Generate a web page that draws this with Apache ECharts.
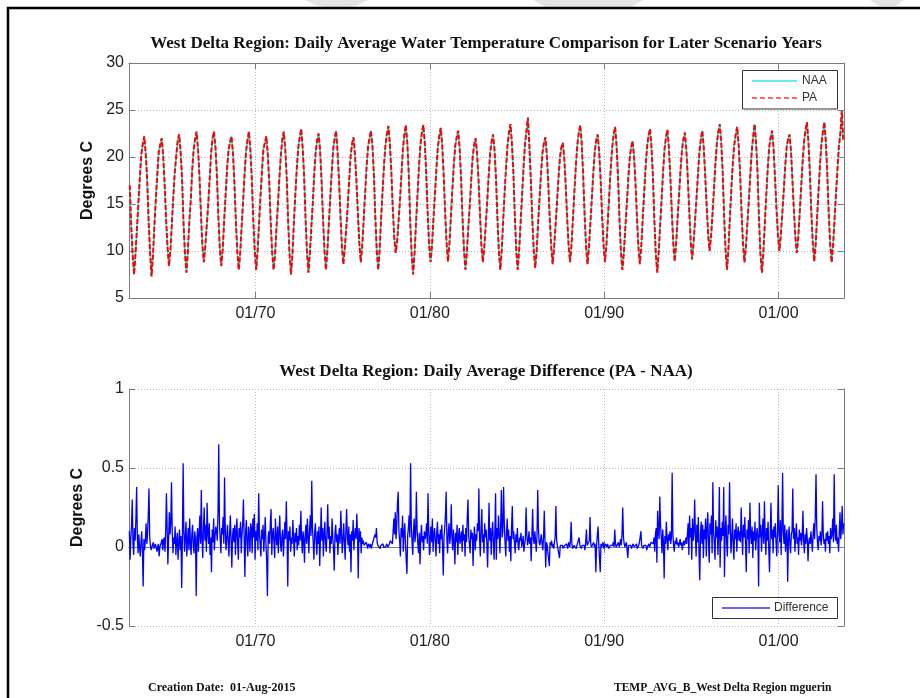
<!DOCTYPE html>
<html><head><meta charset="utf-8">
<script src="https://cdn.jsdelivr.net/npm/echarts@6/dist/echarts.min.js"></script>
<style>html,body{margin:0;padding:0;background:#fff}#c{width:920px;height:698px}</style>
</head><body><div id="c"></div>
<script>
// ---------- data ----------
const FIRST_WATER_YEAR = 1963;          // water year starts 1 Oct of previous year
const X_MIN = 1962.75, X_MAX = 2003.75; // Oct 1962 .. Sep 2003 (decimal years)
const X_TICKS = [1970, 1980, 1990, 2000];
const TEMP_MIN = 5, TEMP_MAX = 30, TEMP_STEP = 5;
const DIFF_MIN = -0.5, DIFF_MAX = 1, DIFF_STEP = 0.5;

// NAA monthly water temperature (deg C), one row per water year, Oct..Sep
const NAA = [
[17.0,12.8,9.6,7.5,9.8,12.4,15.2,17.9,20.3,21.4,22.2,20.4],
[17.6,13.2,9.9,7.3,9.5,12.8,15.6,18.2,20.6,21.3,22.0,20.2],
[17.2,13.5,10.4,8.4,10.1,12.9,15.8,18.4,20.1,21.7,22.4,20.6],
[17.8,13.0,9.8,7.7,9.9,13.1,15.4,18.6,20.8,21.9,22.7,20.9],
[17.9,14.0,10.6,8.8,10.5,12.7,14.9,17.6,20.4,22.0,22.7,21.0],
[18.1,13.6,10.2,8.4,10.2,13.3,16.0,18.8,20.7,21.6,22.2,20.5],
[17.4,13.3,10.0,8.0,9.7,12.6,15.3,18.1,20.5,21.8,22.7,20.8],
[17.7,13.4,10.1,8.0,10.0,13.0,15.9,18.5,20.9,21.5,22.2,20.3],
[17.3,13.1,9.9,8.0,9.6,12.5,15.0,17.8,20.2,21.9,22.7,20.9],
[17.9,13.2,9.6,7.5,9.7,13.2,16.1,18.9,21.0,22.1,23.0,21.0],
[18.0,13.4,9.8,7.7,9.9,12.6,15.2,18.3,20.6,21.8,22.5,20.7],
[17.5,13.5,10.1,8.0,10.0,12.9,15.7,18.4,20.8,22.0,22.8,20.6],
[17.6,13.8,10.5,8.6,10.3,12.4,14.8,17.5,20.1,21.4,22.1,20.2],
[17.4,14.0,10.8,8.8,10.6,13.4,16.2,19.0,21.1,22.0,22.8,21.2],
[18.2,13.6,10.0,8.0,10.2,13.5,16.4,19.2,21.3,22.5,23.3,21.4],
[18.5,14.6,11.5,9.8,11.0,13.2,15.5,18.2,20.9,22.4,23.4,21.5],
[18.3,13.2,9.6,7.5,9.8,13.0,15.9,18.9,21.2,22.6,23.4,21.6],
[18.4,14.1,10.7,8.8,10.6,13.4,16.0,18.7,21.0,22.2,23.1,21.3],
[18.2,14.3,10.9,8.9,10.8,13.6,16.5,19.1,21.2,22.1,22.8,21.0],
[17.8,13.5,10.1,8.0,9.9,12.5,14.9,17.6,20.0,21.3,22.0,20.4],
[17.6,14.0,10.6,8.8,10.4,12.8,15.3,18.0,20.4,21.6,22.4,20.8],
[17.9,13.6,10.0,8.0,10.1,13.3,16.3,19.0,21.3,22.6,23.5,21.4],
[18.4,13.7,10.0,8.0,10.2,13.1,16.0,18.9,21.4,22.8,24.2,21.2],
[17.6,13.4,10.1,8.2,10.0,12.9,15.6,18.2,20.4,21.5,22.1,20.3],
[17.2,13.6,10.5,8.6,10.3,12.7,15.1,17.7,19.9,21.0,21.5,19.9],
[17.0,13.5,10.6,8.8,10.7,13.5,16.4,19.1,21.3,22.6,23.4,21.5],
[18.1,13.9,10.5,8.6,10.4,13.0,15.6,18.3,20.6,21.8,22.4,20.6],
[17.7,14.0,10.7,8.8,10.6,13.3,16.1,18.8,21.0,22.4,23.2,21.2],
[17.9,13.4,9.9,8.0,9.8,12.4,14.9,17.5,19.8,21.0,21.7,20.1],
[17.3,13.7,10.5,8.6,10.5,13.4,16.2,18.9,21.1,22.3,23.0,21.1],
[18.0,13.3,9.7,7.7,9.9,12.8,15.5,18.4,20.8,22.1,22.9,21.0],
[17.9,14.2,10.9,8.9,10.8,13.5,16.0,18.6,20.7,21.9,22.6,20.8],
[17.8,14.3,11.1,9.1,10.9,13.2,15.6,18.1,20.5,21.9,22.8,21.0],
[18.0,14.8,11.8,10.0,11.5,13.9,16.5,19.2,21.4,22.7,23.5,21.6],
[18.5,13.8,10.1,8.0,10.3,13.6,16.6,19.3,21.3,22.4,23.2,21.3],
[18.3,14.1,10.8,8.8,10.4,12.9,15.3,18.0,20.6,22.2,23.5,21.5],
[18.4,13.4,9.7,7.7,9.8,12.9,15.9,18.7,21.0,22.1,22.8,21.0],
[17.9,14.6,11.8,10.0,11.6,13.9,16.3,18.9,21.0,21.9,22.4,20.7],
[17.6,14.4,11.6,9.8,11.4,14.0,16.7,19.4,21.6,22.8,23.7,21.7],
[18.4,14.2,10.9,8.9,10.7,13.6,16.5,19.2,21.5,22.7,23.7,21.6],
[18.2,14.0,10.7,8.8,10.6,13.4,16.1,18.7,21.2,22.5,24.9,21.8]
];
// PA differs from NAA by less than 0.7 deg C (see lower panel): identical at this scale
const PA = NAA;

// Difference PA - NAA (deg C), one row per water year, ~semi-monthly Oct..Sep
const DIFF = [
[0.10,-0.08,0.05,0.14,0.30,0.02,-0.05,0.12,0.04,0.18,0.38,0.06,-0.04,0.08,0.00,-0.06,0.03,0.10,-0.03,-0.25,0.05,-0.02,0.04,0.15],
[0.02,0.08,0.20,0.37,0.06,0.01,-0.02,0.00,0.01,0.03,-0.01,0.00,0.02,0.01,-0.03,0.00,0.02,-0.06,0.00,0.01,0.03,0.05,-0.02,0.04],
[0.06,-0.03,0.10,0.34,0.12,-0.11,0.05,0.22,0.08,0.15,0.41,0.10,-0.04,0.06,0.02,0.13,-0.05,0.04,0.09,-0.08,0.03,0.11,-0.02,0.07],
[-0.26,0.05,0.53,0.10,-0.03,0.07,0.16,-0.06,0.04,0.12,-0.02,0.18,0.03,-0.05,0.08,0.14,0.01,-0.04,0.10,0.05,-0.31,0.06,0.12,-0.03],
[0.08,0.20,0.02,0.36,0.05,-0.07,0.12,0.25,0.04,0.14,-0.03,0.28,0.09,0.02,0.15,-0.05,0.06,-0.16,0.11,0.03,0.18,-0.02,0.07,0.13],
[0.10,0.04,0.22,0.65,0.15,0.05,-0.04,0.12,0.08,0.19,0.02,0.44,0.10,-0.02,0.06,0.14,0.03,-0.06,0.09,0.20,0.04,-0.13,0.07,0.12],
[0.03,0.14,-0.05,0.10,0.18,0.02,-0.08,0.12,0.06,0.16,-0.04,0.08,0.15,0.30,0.05,-0.19,0.10,0.17,0.02,-0.06,0.13,0.08,-0.03,0.15],
[0.12,-0.04,0.18,0.06,0.21,-0.08,0.10,0.04,0.15,-0.02,0.34,0.08,0.02,-0.06,0.11,0.05,0.14,-0.03,0.07,0.19,0.02,-0.09,-0.31,0.06],
[0.10,0.02,0.15,0.24,-0.05,0.08,0.12,0.03,-0.07,0.18,0.06,0.01,0.13,-0.04,0.09,0.20,0.02,-0.03,0.07,0.11,-0.06,0.04,0.16,0.05],
[0.29,0.08,-0.25,0.10,0.04,0.13,-0.03,0.06,0.02,0.17,0.05,-0.06,0.09,0.03,0.12,-0.02,0.07,0.01,0.14,0.04,0.23,0.06,-0.04,0.10],
[0.05,-0.10,0.08,0.14,0.02,0.18,0.06,-0.04,0.11,0.20,0.07,0.42,0.12,0.03,-0.08,0.09,0.15,0.04,-0.05,0.10,0.02,0.13,-0.12,0.06],
[0.25,0.04,0.12,-0.06,0.08,0.16,0.02,-0.03,0.10,0.27,0.05,0.13,-0.04,0.07,0.02,0.18,0.06,-0.02,-0.15,0.09,0.14,0.03,0.08,-0.05],
[0.06,0.12,0.02,0.23,0.09,-0.04,0.05,0.15,0.03,-0.08,0.11,0.24,0.06,0.01,0.13,-0.03,0.08,-0.16,0.10,0.04,0.17,-0.02,0.07,0.12],
[0.05,0.21,0.08,-0.20,0.12,0.03,0.10,-0.04,0.06,0.02,0.04,0.01,0.02,0.00,0.03,0.01,-0.01,0.02,0.01,0.00,0.02,-0.01,0.01,0.03],
[0.02,0.04,0.08,0.06,0.12,0.03,0.01,0.00,0.02,-0.01,0.01,0.00,0.01,0.02,0.00,-0.01,0.01,0.00,0.02,0.01,0.00,0.01,0.02,0.04],
[0.03,0.05,0.02,0.10,0.18,0.08,0.22,0.05,0.14,0.28,0.35,0.10,0.04,-0.06,0.12,0.06,0.20,-0.03,0.09,0.15,0.02,-0.08,-0.17,0.07],
[0.12,0.20,0.06,0.53,0.14,0.04,-0.05,0.10,0.18,0.03,0.08,0.35,0.11,0.02,-0.04,0.09,-0.11,0.06,0.14,0.03,0.07,-0.02,0.10,0.05],
[0.08,0.15,0.02,0.34,0.10,-0.05,0.06,0.13,0.03,0.18,-0.03,0.07,0.12,0.04,-0.06,0.09,0.16,0.02,0.08,-0.04,0.11,0.05,0.14,0.01],
[-0.18,0.06,0.12,0.20,0.35,0.05,-0.04,0.10,0.15,0.02,0.08,0.27,0.06,-0.02,0.11,0.04,-0.11,0.09,0.03,0.14,-0.05,0.07,0.12,0.02],
[0.06,0.10,-0.03,0.14,0.04,0.08,-0.06,0.12,0.03,0.18,0.30,0.07,0.02,-0.04,0.11,0.05,0.09,-0.12,0.06,0.13,-0.02,0.08,0.04,0.15],
[0.10,0.37,0.05,-0.06,0.12,0.24,0.03,0.08,-0.04,0.15,0.06,0.11,0.02,-0.13,0.07,0.28,0.04,0.12,-0.05,0.09,0.16,0.03,-0.08,0.10],
[0.34,-0.08,0.12,0.05,0.20,0.08,-0.04,0.14,0.36,0.06,0.10,0.38,0.15,0.03,-0.06,0.09,0.18,0.04,0.11,-0.03,0.07,-0.09,0.13,0.26],
[0.05,0.10,0.02,-0.04,0.08,0.03,0.12,0.01,-0.02,0.06,0.04,0.09,0.00,0.03,0.07,-0.03,0.02,0.05,0.25,0.08,0.01,0.04,0.10,0.02],
[0.06,-0.09,0.08,0.24,0.05,0.02,0.10,0.04,-0.03,0.07,0.36,0.12,0.03,0.01,0.05,0.08,0.02,-0.02,0.06,0.23,0.04,-0.13,0.03,0.01],
[0.02,0.00,-0.12,0.03,0.01,0.04,0.00,0.02,-0.01,0.03,0.06,0.26,0.04,0.01,0.00,0.02,-0.07,0.01,0.00,0.02,0.01,-0.01,0.00,0.01],
[0.01,0.00,0.02,-0.01,0.01,0.03,0.00,0.04,0.16,0.02,-0.01,0.00,0.01,0.02,0.00,-0.01,0.01,0.00,0.02,0.06,0.01,0.00,-0.01,0.01],
[0.02,0.00,0.01,-0.02,0.03,0.11,0.01,0.00,0.02,0.04,0.19,0.02,0.00,-0.01,0.01,0.03,0.00,0.02,-0.16,0.01,0.00,0.13,0.02,0.01],
[-0.16,0.02,0.00,0.01,0.03,-0.01,0.00,0.02,0.01,0.00,0.02,0.01,-0.01,0.00,0.01,0.02,0.00,0.01,0.03,0.00,0.11,0.02,0.00,0.01],
[0.01,0.03,0.00,0.02,0.05,0.01,0.08,0.25,0.06,0.02,0.00,0.01,0.03,-0.02,-0.07,0.01,0.00,0.02,0.01,-0.01,0.00,0.02,0.01,0.00],
[0.01,0.00,0.02,-0.01,0.00,0.01,0.03,0.02,0.10,0.01,0.00,-0.01,0.01,0.02,0.00,0.01,-0.02,0.00,0.01,0.02,0.00,0.01,0.03,0.02],
[0.04,0.02,0.06,-0.03,0.08,0.12,-0.10,0.23,0.10,0.05,0.32,0.14,0.06,-0.04,0.11,0.03,-0.20,0.07,0.02,0.16,0.05,-0.02,0.08,0.04],
[0.10,0.02,0.06,0.47,0.08,0.01,-0.03,0.04,0.02,0.06,0.01,0.03,0.00,0.02,0.05,0.01,0.03,-0.02,0.02,0.04,0.01,0.03,0.06,0.02],
[0.08,0.15,-0.05,0.20,0.06,0.12,-0.08,0.18,0.04,0.10,0.30,0.07,-0.06,0.14,0.03,0.19,-0.04,-0.21,0.09,0.16,0.02,0.14,-0.07,0.11],
[0.05,0.18,-0.06,0.12,0.22,0.03,-0.10,0.15,0.08,0.20,-0.04,0.41,0.10,0.02,-0.08,0.17,0.06,0.13,-0.05,0.09,0.38,-0.13,0.12,0.04],
[0.16,0.07,0.38,-0.19,0.10,0.20,0.03,-0.06,0.14,0.08,0.41,0.12,-0.04,0.06,0.18,0.02,-0.08,0.11,0.05,0.15,-0.03,0.09,0.13,0.04],
[0.10,0.03,0.25,0.08,-0.05,0.14,0.06,0.19,0.02,-0.16,0.11,0.05,0.17,-0.04,0.28,0.08,0.02,0.13,-0.07,0.10,0.04,0.16,-0.02,0.07],
[0.12,0.05,-0.25,0.28,0.06,0.14,-0.03,0.09,0.18,0.02,0.29,0.07,-0.05,0.12,0.04,0.16,-0.02,-0.16,0.08,0.28,0.05,0.11,-0.04,0.13],
[0.06,0.15,0.02,-0.06,0.10,0.39,0.08,0.03,0.17,-0.05,0.12,0.47,0.09,0.02,0.14,-0.03,0.07,0.11,-0.22,0.05,0.13,0.02,-0.04,0.08],
[0.10,0.37,0.05,0.12,-0.03,0.08,0.15,0.02,0.06,-0.05,0.11,0.04,0.09,0.01,0.07,0.23,0.03,-0.04,0.08,0.02,0.12,0.05,-0.09,0.03],
[0.06,0.02,0.10,0.04,-0.03,0.08,0.15,0.05,0.20,0.46,0.12,0.03,-0.02,0.07,0.04,0.10,0.01,0.06,0.29,0.08,0.02,0.05,-0.03,0.09],
[0.04,0.10,0.02,0.07,-0.04,0.12,0.05,0.08,0.18,0.03,0.46,0.10,0.04,0.14,0.02,0.06,-0.03,0.09,0.22,0.05,0.12,0.26,0.08,0.15]
];

const TITLE_TOP = 'West Delta Region: Daily Average Water Temperature Comparison for Later Scenario Years';
const TITLE_BOTTOM = 'West Delta Region: Daily Average Difference (PA - NAA)';
const Y_NAME = 'Degrees C';
const LEGEND_TOP = ['NAA', 'PA'];
const LEGEND_BOTTOM = ['Difference'];
const FOOT_LEFT = 'Creation Date:  01-Aug-2015';
const FOOT_RIGHT = 'TEMP_AVG_B_West Delta Region mguerin';

// ---------- build series: place each row's samples inside its water year ----------
function toPoints(rows) {
  const pts = [];
  rows.forEach((row, y) => {
    const wyStart = X_MIN + y;
    row.forEach((v, j) => pts.push([wyStart + (j + 0.5) / row.length, v]));
  });
  return pts;
}
const naaPts = toPoints(NAA), paPts = toPoints(PA), diffPts = toPoints(DIFF);

const SANS = '"Liberation Sans", Arial, sans-serif';
const SERIF = '"Liberation Serif", "Times New Roman", serif';
const AX = '#7a7a7a';
const labFmt = v => '01/' + String(Math.round(v)).slice(2);

function xAxes(gi) {
  return [{
    type: 'value', gridIndex: gi, min: X_MIN, max: X_MAX, position: 'bottom',
    axisLine: {show: true, lineStyle: {color: AX, width: 1}},
    axisTick: {show: true, inside: true, length: 6, customValues: X_TICKS, lineStyle: {color: AX}},
    axisLabel: {show: true, customValues: X_TICKS, formatter: labFmt, color: '#222', fontFamily: SANS, fontSize: 16, margin: 8},
    splitLine: {show: true, lineStyle: {color: '#b8b8b8', type: [1, 2], width: 1}}
  }, {
    type: 'value', gridIndex: gi, min: X_MIN, max: X_MAX, position: 'top',
    axisLine: {show: true, lineStyle: {color: AX, width: 1}},
    axisTick: {show: true, inside: true, length: 6, customValues: X_TICKS, lineStyle: {color: AX}},
    axisLabel: {show: false}, splitLine: {show: false}
  }];
}
function yAxes(gi, min, max, step, gap) {
  return [{
    type: 'value', gridIndex: gi, min, max, interval: step, position: 'left',
    name: Y_NAME, nameLocation: 'middle', nameGap: gap,
    nameTextStyle: {fontFamily: SANS, fontWeight: 'bold', fontSize: 16, color: '#111'},
    axisLine: {show: true, lineStyle: {color: AX, width: 1}},
    axisTick: {show: true, inside: true, length: 6, lineStyle: {color: AX}},
    axisLabel: {color: '#222', fontFamily: SANS, fontSize: 16, margin: 5, formatter: v => String(+v.toFixed(2))},
    splitLine: {show: true, lineStyle: {color: '#b8b8b8', type: [1, 2], width: 1}}
  }, {
    type: 'value', gridIndex: gi, min, max, interval: step, position: 'right',
    axisLine: {show: true, lineStyle: {color: AX, width: 1}},
    axisTick: {show: true, inside: true, length: 6, lineStyle: {color: AX}},
    axisLabel: {show: false}, splitLine: {show: false}
  }];
}

const WM = '#e4e4e4';
const chart = echarts.init(document.getElementById('c'), null, {renderer: 'canvas'});
chart.setOption({
  animation: false,
  backgroundColor: '#fff',
  grid: [
    {left: 129, top: 63, width: 715, height: 235},
    {left: 129, top: 389, width: 715, height: 237}
  ],
  xAxis: [...xAxes(0), ...xAxes(1)],
  yAxis: [...yAxes(0, TEMP_MIN, TEMP_MAX, TEMP_STEP, 28), ...yAxes(1, DIFF_MIN, DIFF_MAX, DIFF_STEP, 37)],
  series: [
    {name: LEGEND_TOP[0], type: 'line', xAxisIndex: 0, yAxisIndex: 0, data: naaPts, showSymbol: false, symbol: 'none',
     lineStyle: {color: '#33e6e6', width: 1.6}, z: 2},
    {name: LEGEND_TOP[1], type: 'line', xAxisIndex: 0, yAxisIndex: 0, data: paPts, showSymbol: false, symbol: 'none',
     lineStyle: {color: '#ff0000', width: 2, type: [5, 2]}, z: 3},
    {name: LEGEND_BOTTOM[0], type: 'line', xAxisIndex: 2, yAxisIndex: 2, data: diffPts, showSymbol: false, symbol: 'none',
     lineStyle: {color: '#0000ff', width: 1.3}, z: 2}
  ],
  graphic: [
    // faint watermark fragments outside the frame
    {type: 'polygon', shape: {points: [[305,0],[368,0],[356,6],[337,8],[318,6]]}, style: {fill: WM}},
    {type: 'polygon', shape: {points: [[533,0],[643,0],[630,8],[548,8]]}, style: {fill: WM}},
    {type: 'polygon', shape: {points: [[870,0],[904,0],[896,6],[879,6]]}, style: {fill: WM}},
    {type: 'rect', shape: {x: 8, y: 8, width: 1000, height: 1000}, style: {fill: 'none', stroke: '#000', lineWidth: 2.5}, z: 50},
    {type: 'text', x: 486, y: 44, style: {text: TITLE_TOP, font: 'bold 17px ' + SERIF, fill: '#111', align: 'center', verticalAlign: 'middle'}},
    {type: 'text', x: 486, y: 372, style: {text: TITLE_BOTTOM, font: 'bold 17px ' + SERIF, fill: '#111', align: 'center', verticalAlign: 'middle'}},
    // legend top
    {type: 'rect', z: 100, shape: {x: 742.5, y: 70.5, width: 95, height: 38.5}, style: {fill: '#fff', stroke: '#333', lineWidth: 1}},
    {type: 'line', z: 101, shape: {x1: 752, y1: 81, x2: 797, y2: 81}, style: {stroke: '#33e6e6', lineWidth: 1.5}},
    {type: 'line', z: 101, shape: {x1: 752, y1: 98, x2: 797, y2: 98}, style: {stroke: '#ff3030', lineWidth: 1.5, lineDash: [5, 3]}},
    {type: 'text', z: 101, x: 802, y: 81, style: {text: LEGEND_TOP[0], font: '12px ' + SANS, fill: '#333', verticalAlign: 'middle'}},
    {type: 'text', z: 101, x: 802, y: 98, style: {text: LEGEND_TOP[1], font: '12px ' + SANS, fill: '#333', verticalAlign: 'middle'}},
    // legend bottom
    {type: 'rect', z: 100, shape: {x: 712.5, y: 597.5, width: 125, height: 21}, style: {fill: '#fff', stroke: '#333', lineWidth: 1}},
    {type: 'line', z: 101, shape: {x1: 722, y1: 608, x2: 770, y2: 608}, style: {stroke: '#3333ff', lineWidth: 1.5}},
    {type: 'text', z: 101, x: 774, y: 608, style: {text: LEGEND_BOTTOM[0], font: '12px ' + SANS, fill: '#333', verticalAlign: 'middle'}},
    // footer
    {type: 'text', x: 148, y: 688, style: {text: FOOT_LEFT, font: 'bold 12px ' + SERIF, fill: '#111', verticalAlign: 'middle'}},
    {type: 'text', x: 614, y: 688, style: {text: FOOT_RIGHT, font: 'bold 11.5px ' + SERIF, fill: '#111', verticalAlign: 'middle'}}
  ]
});
</script></body></html>
